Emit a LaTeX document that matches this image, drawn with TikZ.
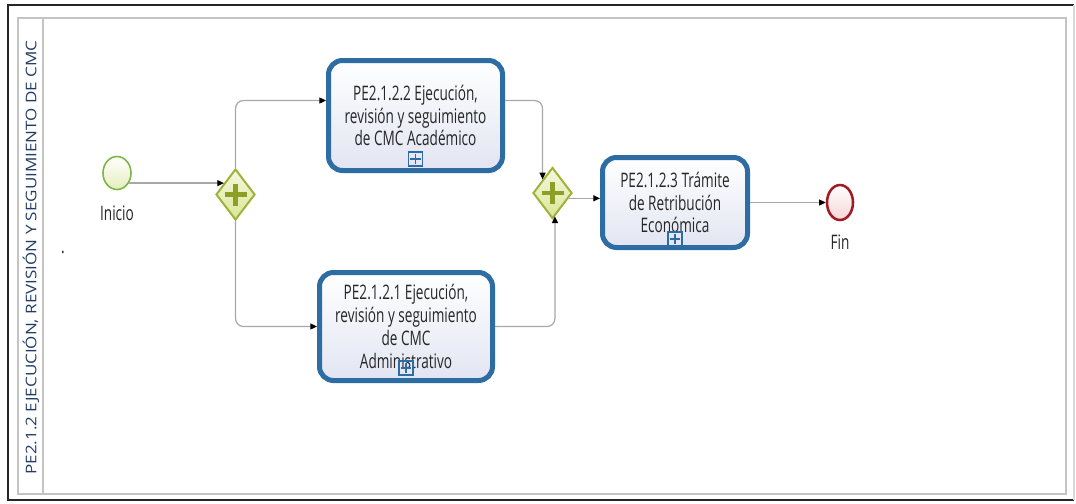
\documentclass[tikz,border=0pt]{standalone}
\usepackage{fontspec}
\setmainfont{Open Sans}[FakeStretch=0.68]
\newfontfamily\lanefont{Open Sans}[FakeStretch=1.16]
\usetikzlibrary{shapes.geometric,arrows.meta,calc}

\definecolor{taskblue}{RGB}{46,108,164}
\definecolor{taskfill}{RGB}{226,229,242}
\definecolor{flowgray}{RGB}{168,168,168}
\definecolor{laneedge}{RGB}{196,196,196}
\definecolor{lanetext}{RGB}{34,60,102}
\definecolor{gateedge}{RGB}{160,178,58}
\definecolor{gatefill}{RGB}{220,230,150}
\definecolor{gateplus}{RGB}{140,160,40}
\definecolor{startedge}{RGB}{122,182,72}
\definecolor{startfill}{RGB}{230,238,190}
\definecolor{endedge}{RGB}{160,28,34}
\definecolor{endfill}{RGB}{246,214,214}

\newcommand\bpmntext{\fontsize{15pt}{17.1pt}\selectfont}

\tikzset{
  taskbox/.style={draw=taskblue, line width=3.75pt, rounded corners=10.5pt,
    top color=white, bottom color=taskfill, inner sep=0pt, align=center,
    font=\bpmntext, text=black!85},
  gateway/.style={diamond, draw=gateedge, line width=1.5pt,
    top color=white!70!gatefill, bottom color=gatefill,
    minimum width=29.25pt, minimum height=38.25pt, inner sep=0pt,
    path picture={
      \draw[gateplus, line width=3.2pt]
        ([xshift=-8.25pt]path picture bounding box.center) --
        ([xshift=8.25pt]path picture bounding box.center)
        ([yshift=-8.25pt]path picture bounding box.center) --
        ([yshift=8.25pt]path picture bounding box.center);}},
  startev/.style={ellipse, draw=startedge, line width=1.2pt,
    top color=white, bottom color=startfill,
    minimum width=21pt, minimum height=24.75pt, inner sep=0pt},
  endev/.style={ellipse, draw=endedge, line width=1.9pt,
    top color=white, bottom color=endfill,
    minimum width=19.5pt, minimum height=26.25pt, inner sep=0pt},
  subproc/.style={draw=taskblue, line width=1.3pt, minimum size=10.5pt,
    inner sep=0pt,
    path picture={
      \draw[taskblue, line width=1.3pt]
        ([xshift=-3.8pt]path picture bounding box.center) --
        ([xshift=3.8pt]path picture bounding box.center)
        ([yshift=-3.8pt]path picture bounding box.center) --
        ([yshift=3.8pt]path picture bounding box.center);}},
  evlabel/.style={font=\bpmntext, text=black!85, inner sep=0pt},
  flow/.style={draw=flowgray, line width=0.9pt, rounded corners=6pt,
    -{Triangle[length=5pt, width=4.5pt, color=black]}},
  laneline/.style={draw=laneedge, line width=1.1pt},
}

\begin{document}
\begin{tikzpicture}[x=0.75pt, y=-0.75pt]
  \useasboundingbox (0,0) rectangle (1076,504);
  % outer frame
  \draw[black!85, line width=1.5pt] (1074,5) -- (8,5) -- (8,500) -- (1074,500);
  \draw[black!15, line width=0.8pt] (1074,5) -- (1074,500);
  % pool and lane header
  \draw[laneline, fill=white] (18,18) rectangle (1066,494);
  \draw[laneline] (43,18) -- (43,494);
  \node[rotate=90, font=\lanefont\fontsize{11pt}{13pt}\selectfont, text=lanetext,
    inner sep=0pt] (lanetitle) at (31,257.5)
    {PE2.1.2 EJECUCIÓN, REVISIÓN Y SEGUIMIENTO DE CMC};
  \node[evlabel] (dot) at (63,252) {.};

  % events and gateways
  \node[startev] (start) at (117,173) {};
  \node[evlabel] (inicio) at (117,213) {Inicio};
  \node[gateway] (gw1) at (235.5,194.5) {};
  \node[gateway] (gw2) at (552.5,193) {};
  \node[endev] (end) at (840,202.5) {};
  \node[evlabel] (fin) at (840,242) {Fin};

  % tasks
  \node[taskbox, minimum width=130.5pt, minimum height=82.5pt] (task2) at (415.5,115.5)
    {PE2.1.2.2 Ejecución,\\revisión y seguimiento\\de CMC Académico};
  \node[taskbox, minimum width=108.75pt, minimum height=67.5pt] (task3) at (675,202.5)
    {PE2.1.2.3 Trámite\\de Retribución\\Económica};
  \node[taskbox, minimum width=129.75pt, minimum height=81pt] (task1) at (406,326.5)
    {PE2.1.2.1 Ejecución,\\revisión y seguimiento\\de CMC\\Administrativo};

  % collapsed sub-process markers
  \node[subproc] (m2) at ([yshift=10.5pt]task2.south) {};
  \node[subproc] (m3) at ([yshift=8.5pt]task3.south) {};
  \node[subproc] (m1) at ([yshift=11pt]task1.south) {};

  % sequence flows
  \draw[flow] (start.-40) -- (start.-40 -| gw1.135);
  \draw[flow] (gw1.north) |- ([yshift=11.25pt]task2.west);
  \draw[flow] (gw1.south) |- (task1.west);
  \draw[flow] ([yshift=11.25pt]task2.east) -| (gw2.126);
  \draw[flow] (task1.east) -| (gw2.-84);
  \draw[flow] (gw2.-18) -- (gw2.-18 -| task3.west);
  \draw[flow] (task3.east) -- (end.west);
\end{tikzpicture}
\end{document}
